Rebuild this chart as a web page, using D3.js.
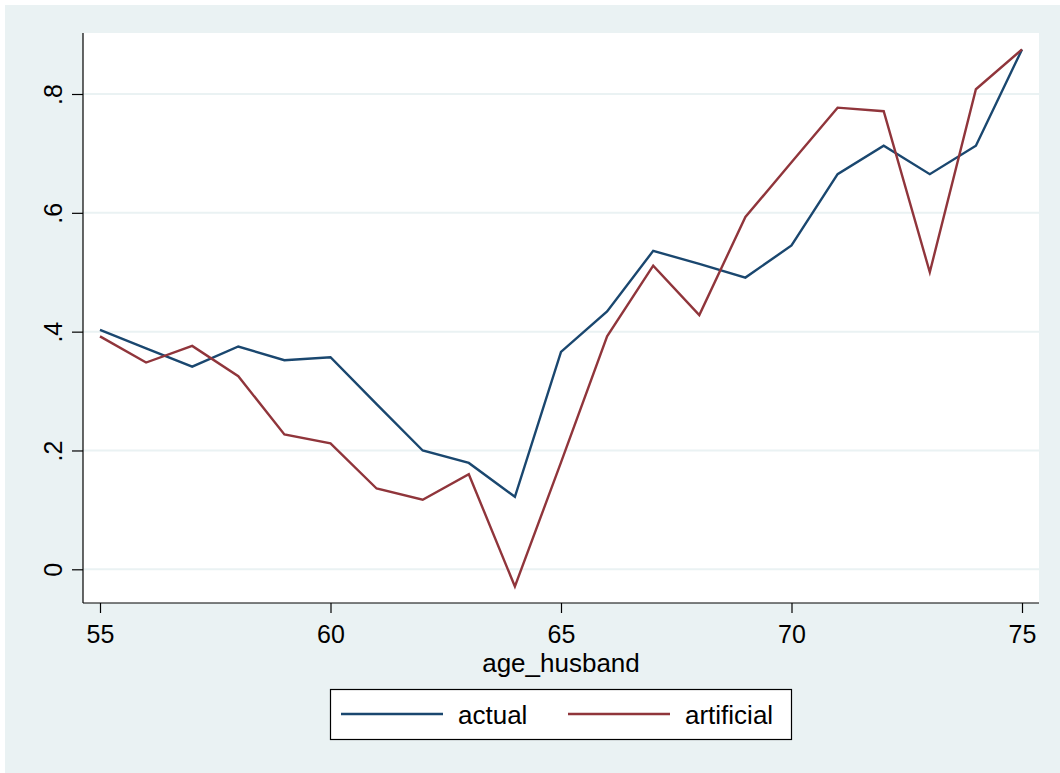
<!DOCTYPE html>
<html>
<head>
<meta charset="utf-8">
<script src="https://cdn.jsdelivr.net/npm/d3@7"></script>
<style>
  html, body { margin: 0; padding: 0; background: #ffffff; }
  svg { display: block; font-family: "Liberation Sans", Arial, sans-serif; }
</style>
</head>
<body>
<svg id="chart" width="1060" height="773"></svg>
<script>
// Husband's age on the x axis
const ages = [55, 56, 57, 58, 59, 60, 61, 62, 63, 64, 65, 66, 67, 68, 69, 70, 71, 72, 73, 74, 75];

// Observed share by age
const actual = [0.403, 0.372, 0.341, 0.375, 0.352, 0.357, 0.278, 0.200, 0.179, 0.122, 0.366,
                0.434, 0.536, 0.514, 0.491, 0.545, 0.665, 0.713, 0.665, 0.713, 0.875];

// Simulated share by age
const artificial = [0.392, 0.348, 0.376, 0.325, 0.227, 0.212, 0.136, 0.117, 0.160, -0.029, 0.180,
                    0.392, 0.511, 0.428, 0.593, 0.685, 0.777, 0.771, 0.500, 0.808, 0.875];

const xTicks = [55, 60, 65, 70, 75];
const yTicks = [0, 0.2, 0.4, 0.6, 0.8];
const yTickLabels = ["0", ".2", ".4", ".6", ".8"];

const seriesNames = ["actual", "artificial"];
const seriesColors = ["#1a476f", "#90353b"];

const svg = d3.select("#chart");
const W = 1060, H = 773;

// Graph region background
svg.append("rect").attr("x", 5).attr("y", 5).attr("width", W - 5).attr("height", H - 5)
  .attr("fill", "#eaf2f3");

// Plot region
const plot = { left: 83, top: 33, right: 1039, bottom: 603 };
svg.append("rect")
  .attr("x", plot.left).attr("y", plot.top)
  .attr("width", plot.right - plot.left).attr("height", plot.bottom - plot.top)
  .attr("fill", "#ffffff");

const x = d3.scaleLinear().domain([55, 75]).range([100, 1022]);
const y = d3.scaleLinear().domain([0, 0.8]).range([569.3, 94]);

// Horizontal grid lines
svg.append("g").selectAll("line").data(yTicks).join("line")
  .attr("x1", plot.left).attr("x2", plot.right)
  .attr("y1", d => y(d)).attr("y2", d => y(d))
  .attr("stroke", "#eaf2f3").attr("stroke-width", 2);

// Series lines
const series = [actual, artificial];
const line = d3.line().x((d, i) => x(ages[i])).y(d => y(d));
series.forEach((vals, k) => {
  svg.append("path").datum(vals)
    .attr("d", line)
    .attr("fill", "none")
    .attr("stroke", seriesColors[k])
    .attr("stroke-width", 2.4)
    .attr("stroke-linejoin", "miter");
});

// Y axis
const yAxis = d3.axisLeft(y).tickValues(yTicks)
  .tickFormat((d, i) => yTickLabels[i]).tickSize(11).tickPadding(6);
const gy = svg.append("g").attr("transform", `translate(${plot.left},0)`).call(yAxis);
gy.select(".domain").attr("d", `M0,${plot.top}V${plot.bottom}`).attr("stroke", "#000").attr("stroke-width", 1.2);
gy.selectAll(".tick line").attr("stroke", "#000").attr("stroke-width", 1.2);
gy.selectAll(".tick text")
  .attr("font-size", 25).attr("fill", "#000")
  .attr("x", null).attr("dy", null)
  .attr("text-anchor", "middle")
  .attr("transform", "translate(-21,0) rotate(-90)");

// X axis
const xAxis = d3.axisBottom(x).tickValues(xTicks).tickFormat(d3.format("d"))
  .tickSize(10).tickPadding(6);
const gx = svg.append("g").attr("transform", `translate(0,${plot.bottom})`).call(xAxis);
gx.select(".domain").attr("d", `M${plot.left},0H${plot.right}`).attr("stroke", "#000").attr("stroke-width", 1.2);
gx.selectAll(".tick line").attr("stroke", "#000").attr("stroke-width", 1.2);
gx.selectAll(".tick text")
  .attr("font-size", 25).attr("fill", "#000")
  .attr("dy", null).attr("y", 40);

// Axis title
svg.append("text")
  .attr("x", (plot.left + plot.right) / 2).attr("y", 672)
  .attr("text-anchor", "middle").attr("font-size", 26).attr("fill", "#000")
  .text("age_husband");

// Legend
const legend = svg.append("g");
legend.append("rect").attr("x", 330.5).attr("y", 689.5).attr("width", 461).attr("height", 50)
  .attr("fill", "#ffffff").attr("stroke", "#000").attr("stroke-width", 1.2);
const legendX = [341, 568];
seriesNames.forEach((name, k) => {
  legend.append("line")
    .attr("x1", legendX[k]).attr("x2", legendX[k] + 102)
    .attr("y1", 714).attr("y2", 714)
    .attr("stroke", seriesColors[k]).attr("stroke-width", 2.4);
  legend.append("text")
    .attr("x", legendX[k] + 117).attr("y", 724)
    .attr("font-size", 26).attr("fill", "#000")
    .text(name);
});
</script>
</body>
</html>
